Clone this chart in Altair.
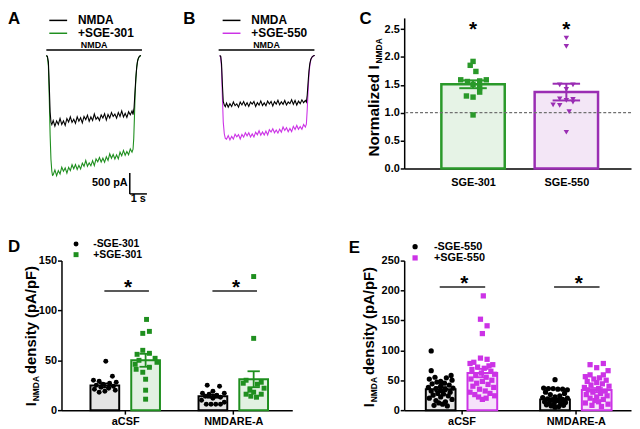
import altair as alt
import pandas as pd

FONT = "Liberation Sans"
GREEN = "#1f8f1f"
C_GREEN = "#2a992a"
PURPLE = "#9a2db3"
MAGENTA = "#cc33e6"

# ---------------- Panels A / B : current traces (time in s, current in pA) -------------
PLATEAU_T = [0.4, 0.5, 0.6, 0.7, 0.8, 0.9, 1.0, 1.1, 1.2, 1.3, 1.4, 1.5, 1.6, 1.7, 1.8, 1.9,
             2.0, 2.1, 2.2, 2.3, 2.4, 2.5, 2.6, 2.7, 2.8, 2.9, 3.0, 3.1, 3.2, 3.3, 3.4, 3.5,
             3.6, 3.7, 3.8, 3.9, 4.0, 4.1, 4.2, 4.3, 4.4, 4.5, 4.6, 4.7, 4.8, 4.9, 5.0]

A_BLACK_T = [0.00, 0.06, 0.12, 0.17, 0.22, 0.27, 0.32] + PLATEAU_T + \
            [5.06, 5.12, 5.17, 5.22, 5.27, 5.32, 5.38, 5.45, 5.52]
A_BLACK_I = [0, -20, -150, -700, -1350, -1600, -1660] + \
    [-1560, -1695, -1570, -1656, -1511, -1656, -1571, -1677, -1512, -1597, -1472, -1607,
     -1533, -1628, -1473, -1578, -1494, -1619, -1464, -1539, -1434, -1580, -1475, -1560,
     -1405, -1531, -1476, -1561, -1426, -1501, -1397, -1552, -1417, -1502, -1368, -1463,
     -1408, -1503, -1369, -1464, -1329, -1474, -1390, -1485, -1350, -1425, -1330] + \
    [-1420, -1250, -900, -560, -300, -140, -50, -10, 0]

A_GREEN_T = [0.00, 0.06, 0.12, 0.17, 0.22, 0.27, 0.32, 0.36] + PLATEAU_T + \
            [5.06, 5.10, 5.14, 5.18, 5.23, 5.28, 5.34, 5.42, 5.52]
A_GREEN_I = [0, -30, -250, -1000, -1900, -2500, -2780, -2880] + \
    [-2870, -2749, -2887, -2766, -2844, -2683, -2781, -2700, -2828, -2687, -2765, -2624,
     -2722, -2621, -2739, -2638, -2726, -2585, -2663, -2522, -2660, -2579, -2647, -2526,
     -2644, -2483, -2551, -2450, -2558, -2467, -2565, -2434, -2522, -2361, -2469, -2378,
     -2486, -2385, -2483, -2322, -2410, -2279, -2397, -2306, -2384, -2243, -2321] + \
    [-2250, -2000, -1500, -950, -520, -250, -100, -30, 0]

B_T = [0.00, 0.06, 0.11, 0.16, 0.21, 0.27, 0.33] + PLATEAU_T + \
      [5.06, 5.11, 5.16, 5.21, 5.26, 5.32, 5.40, 5.48, 5.55]
B_BLACK_I = [0, -20, -200, -700, -1100, -1190, -1230] + \
    [-1140, -1239, -1157, -1226, -1114, -1203, -1161, -1240, -1118, -1187, -1105, -1204,
     -1132, -1221, -1119, -1168, -1106, -1225, -1133, -1192, -1090, -1199, -1137, -1206,
     -1094, -1163, -1101, -1210, -1108, -1167, -1075, -1184, -1112, -1171, -1079, -1188,
     -1116, -1155, -1063, -1172, -1080, -1189, -1097, -1156, -1064, -1133, -1081] + \
    [-1120, -950, -650, -380, -200, -90, -30, -5, 0]
B_MAG_I = [0, -30, -300, -1000, -1600, -1880, -1990] + \
    [-2010, -1924, -2028, -1942, -2007, -1891, -1955, -1899, -2003, -1897, -1961, -1855,
     -1930, -1854, -1958, -1882, -1956, -1840, -1904, -1808, -1913, -1837, -1911, -1815,
     -1909, -1783, -1837, -1761, -1856, -1790, -1864, -1768, -1842, -1716, -1800, -1734,
     -1829, -1753, -1827, -1701, -1775, -1679, -1773, -1707, -1772, -1656, -1720] + \
    [-1650, -1300, -850, -480, -240, -100, -30, -5, 0]

A_NAMES = ["NMDA", "+SGE-301"]
B_NAMES = ["NMDA", "+SGE-550"]
NMDA_A = [0.0, 5.58, 131, 250]      # bar start, bar end, bar level, label level
NMDA_B = [-0.06, 5.53, 131, 250]
SCALE_T = [4.87, 5.87]             # 1 s
SCALE_I = [-2825, -3325]           # 500 pA

# ---------------- Panel C -------------
C_CATS = ["SGE-301", "SGE-550"]
C_MEAN = [1.51, 1.37]
C_SEM = [0.07, 0.15]
C_301 = [1.92, 1.85, 1.74, 1.59, 1.56, 1.57, 1.59, 1.51, 1.45, 1.30, 1.28, 1.37, 0.96]
C_301_JIT = [0, -3, 3, -13, -6, 7, 14, 0, 7, -7, 0, 7, 0]
C_550 = [2.34, 2.19, 1.50, 1.50, 1.42, 1.25, 1.24, 1.22, 1.19, 1.14, 1.13, 1.02, 0.65]
C_550_JIT = [0, 0, -7, 7, 0, -7, 7, 0, 7, -14, -7, 3, 0]

# ---------------- Panel D -------------
DE_CATS = ["aCSF", "NMDARE-A"]
D_GROUPS = ["-SGE-301", "+SGE-301"]
D_MEAN_MINUS = [24.8, 14.0]
D_MEAN_PLUS = [50.0, 31.0]
D_SEM_MINUS = [2.0, 1.5]
D_SEM_PLUS = [6.5, 8.0]
D_ACSF_MINUS = [49, 34, 30, 29, 28, 27, 26, 25, 24, 23, 22, 21, 20, 19, 18]
D_ACSF_MINUS_JIT = [1, 8, -12, -6, 12, 5, -2, -9, 9, -4, 4, -11, 11, 0, -6]
D_ACSF_PLUS = [91, 79, 77, 60, 57, 56, 52, 50, 48, 46, 43, 41, 38, 31, 20, 11]
D_ACSF_PLUS_JIT = [1, 4, -3, -3, 4, -9, 10, -7, 12, -11, 4, -10, -3, 0, 0, 0]
D_NMD_MINUS = [25, 24, 19, 17, 17, 16, 15, 14, 13, 12, 10, 8, 6, 6, 6, 6]
D_NMD_MINUS_JIT = [-6, 7, 0, -11, 12, -4, 4, -8, 8, 0, -12, 12, -7, -2, 3, 8]
D_NMD_PLUS = [134, 72, 30, 28, 27, 26, 22, 20, 18, 16, 16, 14, 13]
D_NMD_PLUS_JIT = [0, 0, -8, 8, -11, 4, 11, -4, 0, -8, 8, -3, 3]

# ---------------- Panel E -------------
E_GROUPS = ["-SGE-550", "+SGE-550"]
E_MEAN_MINUS = [35.0, 18.0]
E_MEAN_PLUS = [62.0, 33.5]
E_SEM_MINUS = [3.5, 2.0]
E_SEM_PLUS = [7.0, 3.5]
E_ACSF_MINUS = [99, 66, 58, 55, 54, 52, 50, 48, 47, 45, 44, 42, 40, 38, 37, 36, 35, 33, 32,
                30, 28, 27, 25, 24, 22, 20, 18, 16, 14, 12, 10, 8, 7]
E_ACSF_MINUS_JIT = [-10, -10, 11, -6, 6, -12, 12, 0, -4, 4, -9, 9, 0, -13, 13, -5, 5, 0, -10,
                    10, -3, 3, -8, 8, 0, -12, 12, -5, 5, -2, 2, -7, 7]
E_ACSF_PLUS = [191, 152, 141, 128, 87, 85, 80, 78, 76, 74, 72, 70, 68, 65, 62, 60, 58, 55, 52,
               50, 48, 45, 43, 40, 38, 35, 32, 30, 28, 26, 24, 22, 20, 18]
E_ACSF_PLUS_JIT = [1, -2, 5, 0, -2, 5, -9, -13, 11, 7, -5, 2, -11, 9, -1, 13, -7, 4, -12, 10,
                   0, -6, 6, -10, 12, -3, 3, -13, 8, -8, 13, -4, 4, 0]
E_NMD_MINUS = [51, 37, 36, 36, 35, 35, 34, 30, 28, 26, 24, 22, 21, 20, 19, 18, 17, 16, 15, 14,
               13, 12, 11, 10, 9, 8, 7, 6, 5]
E_NMD_MINUS_JIT = [0, -12, -7, -2, 3, 8, 13, -10, 10, -5, 5, 0, -13, 13, -8, 8, -3, 3, 0, -11,
                   11, -6, 6, -1, -9, 9, -4, 4, 0]
E_NMD_PLUS = [78, 76, 71, 66, 59, 59, 56, 54, 52, 50, 48, 46, 44, 42, 40, 38, 36, 34, 32, 30,
              28, 26, 24, 22, 20, 18, 16, 14, 12, 10, 8, 6]
E_NMD_PLUS_JIT = [7, -7, 0, 12, -7, 7, -12, 3, -3, 10, -10, 0, 6, -6, 13, -13, 2, -9, 9, -4,
                  4, -11, 11, 0, -7, 7, -2, 2, -12, 12, -5, 5]


# ---------------- helpers -------------
def txt(s, x, y, size, angle=0, align="left", baseline="alphabetic"):
    return alt.Chart(pd.DataFrame({"s": [s]})).mark_text(
        font=FONT, fontSize=size, fontWeight="bold", angle=angle, align=align,
        baseline=baseline, color="black").encode(text="s:N", x=alt.value(x), y=alt.value(y))


def key_symbol(shape, color, x, y, size):
    return alt.Chart(pd.DataFrame({"k": [0]})).mark_point(
        filled=True, opacity=1, size=size, shape=shape, color=color).encode(
        x=alt.value(x), y=alt.value(y))


def cat_expr(cats):
    e = "''"
    for i in range(len(cats), 0, -1):
        e = f"datum.value == {i} ? '{cats[i-1]}' : " + e
    return e


# ---------------- trace panels (A and B share one view, independent scales) ----------
PX_PER_S = 17.3
AB_W, AB_H = 233, 150
TR_YDOM = [-2666, 904]
A_XDOM = [0.884, 0.884 + AB_W / PX_PER_S]
B_XDOM = [-9.231, -9.231 + AB_W / PX_PER_S]
LINE_SYMBOL = "M-1,0H5"
LETTER_Y = 6.5


def trace_layers(series, names, colors, xdom, legx, legy, nmda, extra):
    xsc = alt.Scale(domain=xdom, nice=False, zero=False)
    ysc = alt.Scale(domain=TR_YDOM, nice=False, zero=False)
    leg = alt.Legend(orient="none", legendX=legx, legendY=legy, title=None,
                     symbolType=LINE_SYMBOL, symbolSize=36, symbolStrokeWidth=1.5,
                     labelFont=FONT, labelFontSize=12, labelFontWeight="bold",
                     labelColor="black", labelOffset=20, rowPadding=1, padding=0)
    cs = alt.Scale(domain=names, range=colors)
    layers = []
    for name, ts, vs in series:
        df = pd.DataFrame({"trace": [name] * len(ts), "t": ts, "i": vs})
        layers.append(alt.Chart(df).mark_line(strokeWidth=1.1).encode(
            x=alt.X("t:Q", scale=xsc, axis=None),
            y=alt.Y("i:Q", scale=ysc, axis=None),
            color=alt.Color("trace:N", scale=cs, legend=leg),
            order=alt.Order("t:Q")))
    nm = pd.DataFrame({"t0": [nmda[0]], "t1": [nmda[1]], "i": [nmda[2]],
                       "tm": [(nmda[0] + nmda[1]) / 2], "it": [nmda[3]], "s": ["NMDA"]})
    layers.append(alt.Chart(nm).mark_rule(strokeWidth=1.5, color="black").encode(
        x=alt.X("t0:Q", axis=None), x2="t1:Q", y=alt.Y("i:Q", axis=None)))
    layers.append(alt.Chart(nm).mark_text(font=FONT, fontSize=9, fontWeight="bold",
                                          baseline="middle", color="black").encode(
        x=alt.X("tm:Q", axis=None), y=alt.Y("it:Q", axis=None), text="s:N"))
    layers += extra
    return alt.layer(*layers)


sb = pd.DataFrame({"t": [SCALE_T[0]], "t2": [SCALE_T[1]], "itop": [SCALE_I[0]],
                   "ibot": [SCALE_I[1]], "tl": [SCALE_T[0] - 0.12],
                   "il": [(SCALE_I[0] + SCALE_I[1]) / 2], "ts": [(SCALE_T[0] + SCALE_T[1]) / 2],
                   "is": [SCALE_I[1] - 115], "l1": ["500 pA"], "l2": ["1 s"]})
a_extra = [
    alt.Chart(sb).mark_rule(strokeWidth=1.5, color="black").encode(
        x=alt.X("t:Q", axis=None), y=alt.Y("itop:Q", axis=None), y2="ibot:Q"),
    alt.Chart(sb).mark_rule(strokeWidth=1.5, color="black").encode(
        x=alt.X("t:Q", axis=None), x2="t2:Q", y=alt.Y("ibot:Q", axis=None)),
    alt.Chart(sb).mark_text(font=FONT, fontSize=11, fontWeight="bold", align="right",
                            baseline="middle", color="black").encode(
        x=alt.X("tl:Q", axis=None), y=alt.Y("il:Q", axis=None), text="l1:N"),
    alt.Chart(sb).mark_text(font=FONT, fontSize=11, fontWeight="bold", align="center",
                            baseline="middle", color="black").encode(
        x=alt.X("ts:Q", axis=None), y=alt.Y("is:Q", axis=None), text="l2:N"),
    txt("A", -54, LETTER_Y, 17),
]
layer_a = trace_layers([("+SGE-301", A_GREEN_T, A_GREEN_I), ("NMDA", A_BLACK_T, A_BLACK_I)],
                       A_NAMES, ["black", GREEN], A_XDOM, -15.3, -3.5, NMDA_A, a_extra)
layer_b = trace_layers([("+SGE-550", B_T, B_MAG_I), ("NMDA", B_T, B_BLACK_I)],
                       B_NAMES, ["black", MAGENTA], B_XDOM, 159.7, -3.5, NMDA_B,
                       [txt("B", 123, LETTER_Y, 17)])
panel_ab = alt.layer(layer_a, layer_b).resolve_scale(
    x="independent", color="independent").resolve_legend(color="independent").properties(
    width=AB_W, height=AB_H)

# ---------------- panel C -------------
C_W, C_H = 229, 152
C_XDOM = [0.315, 2.640]
C_YDOM = [0, 2.7]
kc = C_W / (C_XDOM[1] - C_XDOM[0])
c_xsc = alt.Scale(domain=C_XDOM, nice=False, zero=False)
c_ysc = alt.Scale(domain=C_YDOM, nice=False, zero=False)
c_xax = alt.Axis(values=[1, 2], labelExpr=cat_expr(C_CATS), title=None, ticks=False,
                 labelPadding=8, labelAngle=0, labelFlush=False)
c_yax = alt.Axis(values=[0, 0.5, 1, 1.5, 2, 2.5], format=".1f", title=None, tickSize=4,
                 labelPadding=1, labelFlush=False)


def cx(f):
    return alt.X(f, type="quantitative", scale=c_xsc, axis=c_xax)


def cy(f):
    return alt.Y(f, type="quantitative", scale=c_ysc, axis=c_yax)


c_bars = pd.DataFrame({"cat": C_CATS, "x": [1, 2], "mean": C_MEAN,
                       "lo": [m - s for m, s in zip(C_MEAN, C_SEM)],
                       "hi": [m + s for m, s in zip(C_MEAN, C_SEM)]})
c_caps = pd.DataFrame([{"cat": c, "xa": i + 1 - 14.5 / kc, "xb": i + 1 + 14.5 / kc, "y": yv}
                       for i, c in enumerate(C_CATS)
                       for yv in (C_MEAN[i] - C_SEM[i], C_MEAN[i] + C_SEM[i])])
c_pts = pd.DataFrame([{"cat": C_CATS[i], "x": i + 1 + j / kc, "v": v}
                      for i, (vals, jit) in enumerate([(C_301, C_301_JIT), (C_550, C_550_JIT)])
                      for v, j in zip(vals, jit)])
c_stroke = alt.Scale(domain=C_CATS, range=[C_GREEN, PURPLE])
c_fill = alt.Scale(domain=C_CATS, range=["#e6f3e6", "#f3e6f6"])
c_star = pd.DataFrame({"x": [1, 2], "y": [2.54, 2.54], "s": ["*", "*"]})
panel_c = alt.layer(
    alt.Chart(c_bars).mark_bar(size=64, strokeWidth=2.5).encode(
        x=cx("x"), y=cy("mean"),
        stroke=alt.Stroke("cat:N", scale=c_stroke, legend=None),
        fill=alt.Fill("cat:N", scale=c_fill, legend=None)),
    alt.Chart(pd.DataFrame({"y": [1.0]})).mark_rule(strokeDash=[3, 2], color="#707070",
                                                    strokeWidth=1.2).encode(y=cy("y")),
    alt.Chart(c_pts).mark_point(filled=True, size=30, opacity=1).encode(
        x=cx("x"), y=cy("v"),
        color=alt.Color("cat:N", scale=c_stroke, legend=None),
        shape=alt.Shape("cat:N", scale=alt.Scale(domain=C_CATS, range=["square", "triangle-down"]),
                        legend=None)),
    alt.Chart(c_bars).mark_rule(strokeWidth=2).encode(
        x=cx("x"), y=cy("lo"), y2="hi:Q", stroke=alt.Stroke("cat:N", scale=c_stroke, legend=None)),
    alt.Chart(c_caps).mark_rule(strokeWidth=2).encode(
        x=cx("xa"), x2="xb:Q", y=cy("y"), stroke=alt.Stroke("cat:N", scale=c_stroke, legend=None)),
    alt.Chart(c_star).mark_text(font=FONT, fontSize=21, fontWeight="bold", dy=3,
                                color="black").encode(x=cx("x"), y=cy("y"), text="s:N"),
    txt("Normalized I", -25.5, 140, 15.5, angle=270),
    txt("NMDA", -22.5, 46, 8.5, angle=270),
    txt("C", -45, LETTER_Y, 17),
).properties(width=C_W, height=C_H)


# ---------------- panels D / E -------------
def group_panel(groups, colors, tints, shapes, means, sems, pts, jits, xdom, w, h, ydom,
                yticks, bar_px, off_px, pt_size, sig_y, sig_px, star_y, star_px, key,
                letter, letter_xy, ytitle):
    k = w / (xdom[1] - xdom[0])
    xsc = alt.Scale(domain=xdom, nice=False, zero=False)
    ysc = alt.Scale(domain=ydom, nice=False, zero=False)
    xax = alt.Axis(values=[1, 2], labelExpr=cat_expr(DE_CATS), title=None, tickSize=4,
                   labelPadding=1, labelAngle=0, labelFlush=False)
    yax = alt.Axis(values=yticks, title=None, tickSize=4, labelPadding=1, labelFlush=False)

    def X(f):
        return alt.X(f, type="quantitative", scale=xsc, axis=xax)

    def Y(f):
        return alt.Y(f, type="quantitative", scale=ysc, axis=yax)

    brows, crows, prows = [], [], []
    for gi, g in enumerate(groups):
        for ci, c in enumerate(DE_CATS):
            xc = ci + 1 + off_px[gi] / k
            m, s = means[gi][ci], sems[gi][ci]
            brows.append({"gbar": g, "x": xc, "mean": m, "lo": m - s, "hi": m + s})
            for yv in (m - s, m + s):
                crows.append({"gbar": g, "xa": xc - 6.5 / k, "xb": xc + 6.5 / k, "y": yv})
            for v, j in zip(pts[gi][ci], jits[gi][ci]):
                prows.append({"group": g, "x": xc + j / k, "v": v})
    bdf, cdf, pdf = pd.DataFrame(brows), pd.DataFrame(crows), pd.DataFrame(prows)
    sdf = pd.DataFrame({"xa": [i + 1 + sig_px[0] / k for i in range(2)],
                        "xb": [i + 1 + sig_px[1] / k for i in range(2)],
                        "y": [sig_y, sig_y],
                        "xs": [i + 1 + star_px / k for i in range(2)],
                        "ys": [star_y, star_y], "s": ["*", "*"]})
    st = alt.Scale(domain=groups, range=colors)
    layers = [
        alt.Chart(bdf).mark_bar(size=bar_px, strokeWidth=2).encode(
            x=X("x"), y=Y("mean"),
            stroke=alt.Stroke("gbar:N", scale=st, legend=None),
            fill=alt.Fill("gbar:N", scale=alt.Scale(domain=groups, range=tints), legend=None)),
        alt.Chart(pdf).mark_point(filled=True, size=pt_size, opacity=1).encode(
            x=X("x"), y=Y("v"),
            color=alt.Color("group:N", scale=st, legend=None),
            shape=alt.Shape("group:N", scale=alt.Scale(domain=groups, range=shapes),
                            legend=None)),
        alt.Chart(bdf).mark_rule(strokeWidth=1.8).encode(
            x=X("x"), y=Y("lo"), y2="hi:Q", stroke=alt.Stroke("gbar:N", scale=st, legend=None)),
        alt.Chart(cdf).mark_rule(strokeWidth=1.8).encode(
            x=X("xa"), x2="xb:Q", y=Y("y"), stroke=alt.Stroke("gbar:N", scale=st, legend=None)),
        alt.Chart(sdf).mark_rule(strokeWidth=1.5, color="#222222").encode(
            x=X("xa"), x2="xb:Q", y=Y("y")),
        alt.Chart(sdf).mark_text(font=FONT, fontSize=21, fontWeight="bold", dy=3,
                                 color="black").encode(x=X("xs"), y=Y("ys"), text="s:N"),
        txt(letter, letter_xy[0], letter_xy[1], 17),
    ]
    # key (legend) above the plot
    kx, ky, kdy, klx, kfs = key
    for gi, g in enumerate(groups):
        layers.append(key_symbol(shapes[gi], colors[gi], kx, ky + gi * kdy, pt_size))
        layers.append(txt(g, klx, ky + gi * kdy, kfs, baseline="middle"))
    for s, x, y, size in ytitle:
        layers.append(txt(s, x, y, size, angle=270))
    return alt.layer(*layers).properties(width=w, height=h)


panel_d = group_panel(
    D_GROUPS, ["black", GREEN], ["#e4e4e4", "#e2f1e2"], ["circle", "square"],
    [D_MEAN_MINUS, D_MEAN_PLUS], [D_SEM_MINUS, D_SEM_PLUS],
    [[D_ACSF_MINUS, D_NMD_MINUS], [D_ACSF_PLUS, D_NMD_PLUS]],
    [[D_ACSF_MINUS_JIT, D_NMD_MINUS_JIT], [D_ACSF_PLUS_JIT, D_NMD_PLUS_JIT]],
    [0.456, 2.5], 233, 151, [0, 150], [0, 50, 100, 150], 29, [-21.5, 21.5], 25,
    119.5, [-22, 25], 125, 3, [14.7, -16.7, 10.7, 32, 10.5], "D", [-54, -9],
    [("I", -26, 147, 15), ("NMDA", -23, 142, 8.5), ("density (pA/pF)", -26, 114.5, 15)])

panel_e = group_panel(
    E_GROUPS, ["black", MAGENTA], ["#e4e4e4", "#f6e2fa"], ["circle", "square"],
    [E_MEAN_MINUS, E_MEAN_PLUS], [E_SEM_MINUS, E_SEM_PLUS],
    [[E_ACSF_MINUS, E_NMD_MINUS], [E_ACSF_PLUS, E_NMD_PLUS]],
    [[E_ACSF_MINUS_JIT, E_NMD_MINUS_JIT], [E_ACSF_PLUS_JIT, E_NMD_PLUS_JIT]],
    [0.542, 2.439], 229, 151, [0, 250], [0, 50, 100, 150, 200, 250], 30, [-22, 22], 28,
    206, [-23, 25], 215, 3, [11, -14, 11.3, 30, 11], "E", [-56, -8],
    [("I", -30, 148, 15), ("NMDA", -27, 143, 8.5), ("density (pA/pF)", -30, 115.5, 15)])

RES = dict(color="independent", shape="independent", stroke="independent", fill="independent")

chart = alt.concat(panel_ab, panel_c, panel_d, panel_e, columns=2,
                   spacing={"row": 93, "column": 113}, bounds="flush", align="all"
                   ).resolve_scale(**RES).properties(
    padding=0
).configure_axis(
    labelFont=FONT, labelFontSize=11, labelFontWeight="bold", labelColor="black",
    domainColor="black", domainWidth=1.5, tickColor="black", tickWidth=1.5, grid=False,
    labelOverlap=False
).configure_view(stroke=None)

chart.save("out.html", embed_options={"renderer": "svg", "actions": False})
